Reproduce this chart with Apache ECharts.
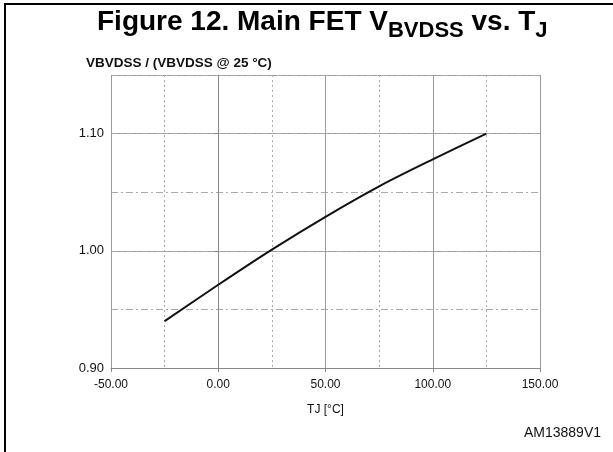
<!DOCTYPE html>
<html>
<head>
<meta charset="utf-8">
<script src="https://cdn.jsdelivr.net/npm/echarts@6/dist/echarts.min.js"></script>
<style>html,body{margin:0;padding:0;background:#fff;}#c{width:613px;height:452px;}</style>
</head>
<body>
<div id="c"></div>
<script>
// Data
const tj = [-25, 0, 25, 50, 75, 100, 125];
const vRatio = [0.940, 0.971, 1.001, 1.029, 1.055, 1.078, 1.100];
const xTicks = [-50, 0, 50, 100, 150];
const yTicks = [0.90, 1.00, 1.10];

const chart = echarts.init(document.getElementById('c'), null, {renderer: 'canvas'});
const FONT = 'Liberation Sans, Arial, sans-serif';
const gridColor = '#9a9a9a';

chart.setOption({
  animation: false,
  backgroundColor: '#fff',
  textStyle: {fontFamily: FONT},
  title: [
    {
      text: '{a|Figure 12. Main FET V}{s|BVDSS}{a| vs. T}{s|J}',
      left: 97, top: 8, padding: 0,
      textStyle: {
        fontFamily: FONT,
        rich: {
          a: {fontSize: 28, fontWeight: 'bold', color: '#000', lineHeight: 30, verticalAlign: 'top', fontFamily: FONT},
          s: {fontSize: 22, fontWeight: 'bold', color: '#000', lineHeight: 30, verticalAlign: 'top', padding: [12, 0, 0, 0], fontFamily: FONT}
        }
      }
    },
    {
      text: 'VBVDSS / (VBVDSS @ 25 °C)',
      left: 86, top: 56, padding: 0,
      textStyle: {fontSize: 13.5, fontWeight: 'bold', color: '#111', fontFamily: FONT}
    },
    {
      text: 'AM13889V1',
      right: 12, top: 426, padding: 0,
      textStyle: {fontSize: 14, fontWeight: 'normal', color: '#111', fontFamily: FONT}
    }
  ],
  graphic: [
    {type: 'polyline', shape: {points: [[5, 452], [5, 4], [613, 4]]}, style: {stroke: '#000', lineWidth: 2, fill: null}, z: 100}
  ],
  grid: {left: 111, right: 73, top: 75, bottom: 84, containLabel: false},
  xAxis: {
    type: 'value',
    min: xTicks[0], max: xTicks[xTicks.length - 1], interval: 50,
    name: 'TJ [°C]', nameLocation: 'middle', nameGap: 36,
    nameTextStyle: {fontSize: 12, color: '#111', fontFamily: FONT},
    axisLine: {show: true, lineStyle: {color: '#888', width: 1}},
    axisTick: {show: true, length: 4, lineStyle: {color: '#888'}},
    axisLabel: {fontSize: 12, color: '#111', margin: 11, formatter: v => v.toFixed(2), fontFamily: FONT},
    splitLine: {show: true, lineStyle: {color: gridColor, width: 1, type: 'solid'}},
    minorTick: {show: false, splitNumber: 2},
    minorSplitLine: {show: true, lineStyle: {color: '#aaa', width: 1, type: [2, 3]}}
  },
  yAxis: [
    {
      type: 'value',
      min: yTicks[0], max: 1.15, interval: 0.1,
      axisLine: {show: true, lineStyle: {color: '#888', width: 1}},
      axisTick: {show: true, length: 4, lineStyle: {color: '#888'}},
      axisLabel: {fontSize: 13, color: '#111', margin: 7, showMaxLabel: false, formatter: v => v.toFixed(2), fontFamily: FONT},
      splitLine: {show: true, lineStyle: {color: gridColor, width: 1, type: 'solid'}}
    },
    {
      type: 'value',
      min: yTicks[0], max: 1.15, interval: 0.05,
      position: 'left',
      axisLine: {show: false}, axisTick: {show: false}, axisLabel: {show: false},
      splitLine: {show: true, lineStyle: {color: '#aaa', width: 1, type: [7, 3, 2, 3]}}
    }
  ],
  series: [{
    type: 'line',
    data: tj.map((t, i) => [t, vRatio[i]]),
    yAxisIndex: 0,
    showSymbol: false,
    smooth: 0.3,
    lineStyle: {color: '#111', width: 2},
    z: 10
  }]
});
</script>
</body>
</html>
